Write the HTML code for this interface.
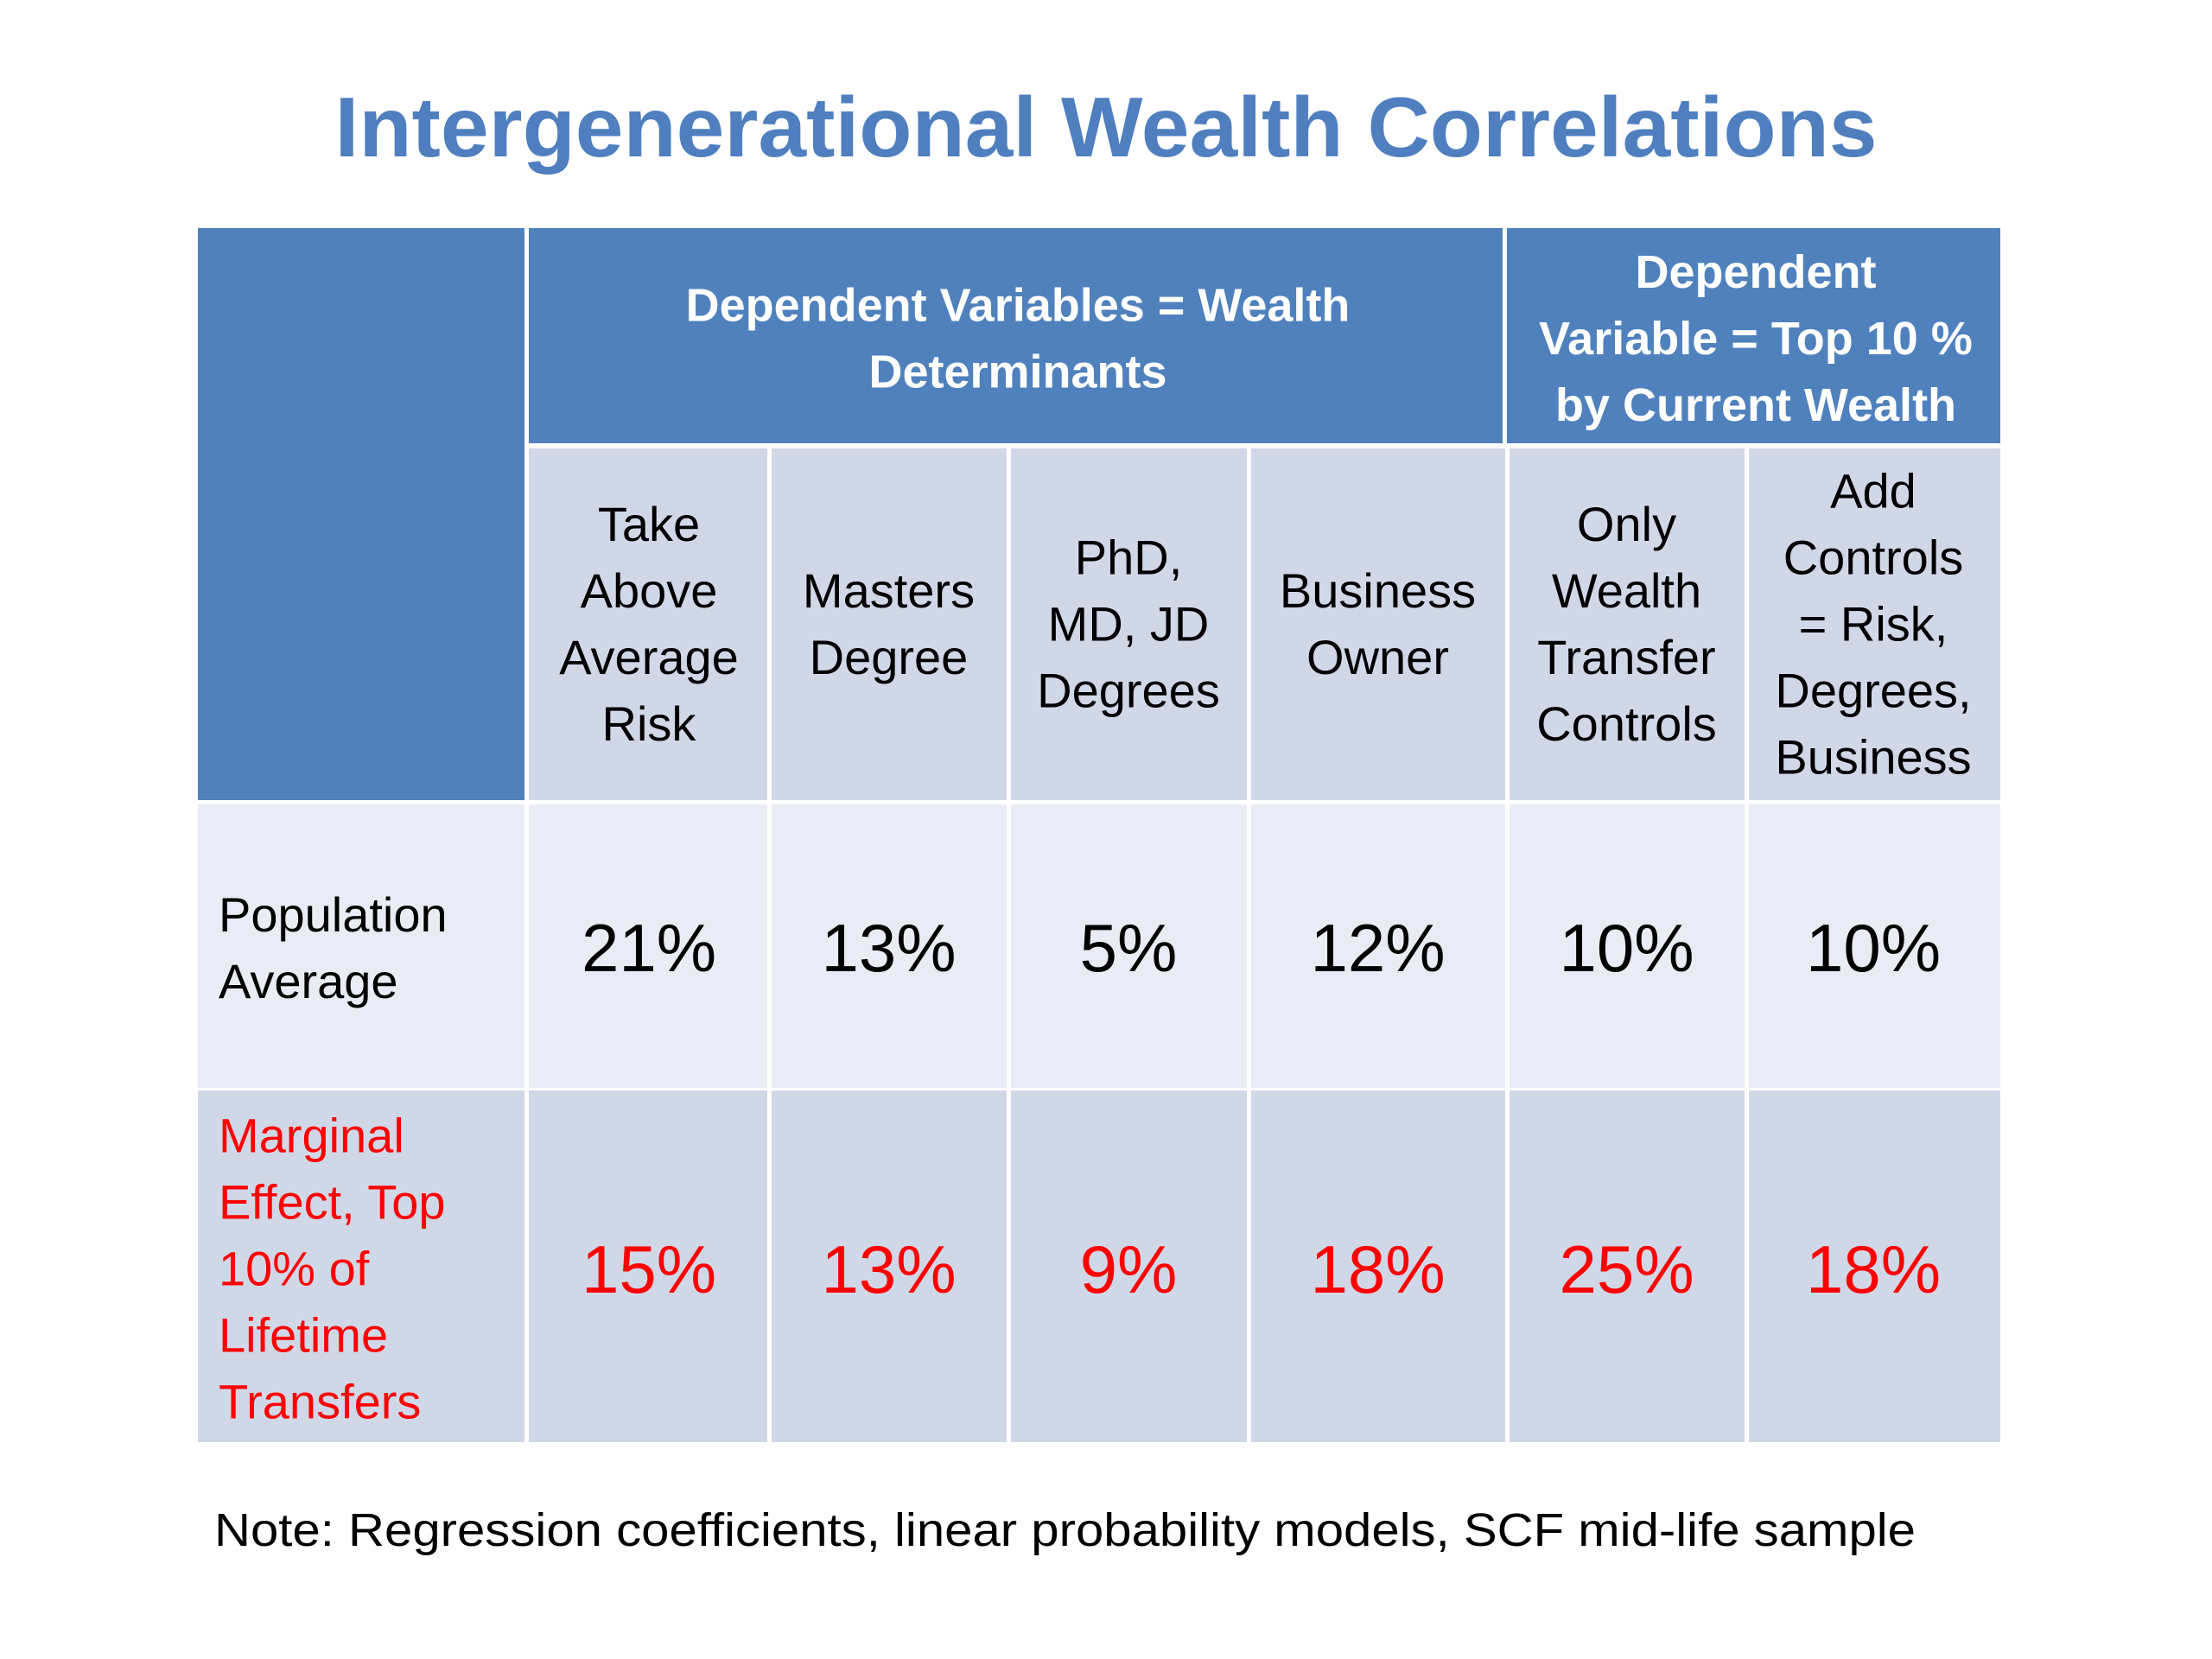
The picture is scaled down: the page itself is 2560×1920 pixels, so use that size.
<!DOCTYPE html>
<html><head><meta charset="utf-8"><style>
html,body{margin:0;padding:0;background:#fff;}
svg{display:block;font-family:"Liberation Sans",sans-serif;}
</style></head><body>
<svg id="c" width="2560" height="1920" viewBox="0 0 2560 1920">
<text x="1280" y="147" text-anchor="middle" dominant-baseline="central" font-size="98" font-weight="bold" fill="#4f7fbf" textLength="1785" lengthAdjust="spacingAndGlyphs">Intergenerational Wealth Correlations</text>
<g id="t"></g>
<text x="248" y="1771" dominant-baseline="central" font-size="54" fill="#000" textLength="1969" lengthAdjust="spacingAndGlyphs">Note: Regression coefficients, linear probability models, SCF mid-life sample</text>
</svg>
<script>
const columns = [["Take","Above","Average","Risk"],["Masters","Degree"],["PhD,","MD, JD","Degrees"],["Business","Owner"],["Only","Wealth","Transfer","Controls"],["Add","Controls","= Risk,","Degrees,","Business"]];
const popAverage = ["21%","13%","5%","12%","10%","10%"];
const marginalEffect = ["15%","13%","9%","18%","25%","18%"];
const rowLabels = [["Population","Average"],["Marginal","Effect, Top","10% of","Lifetime","Transfers"]];

const NS="http://www.w3.org/2000/svg";
const g=document.getElementById('t');
const colX=[612,890,1167,1445,1744,2021,2315];
const lh=77;
function rect(x,y,w,h,fill,name){const r=document.createElementNS(NS,'rect');
r.setAttribute('x',x);r.setAttribute('y',y);r.setAttribute('width',w);r.setAttribute('height',h);r.setAttribute('fill',fill);


g.appendChild(r);}
function lines(arr,x,cy,size,fill,anchor,weight,name){arr.forEach((s,i)=>{const t=document.createElementNS(NS,'text');
t.setAttribute('x',x);t.setAttribute('y',cy+(i-(arr.length-1)/2)*lh);t.setAttribute('text-anchor',anchor);
t.setAttribute('dominant-baseline','central');t.setAttribute('font-size',size);t.setAttribute('fill',fill);
if(weight)t.setAttribute('font-weight',weight);t.textContent=s;


g.appendChild(t);});}
rect(229,264,2086,1405,'#ffffff','table-bg');
rect(229,264,378,662,'#4f81bd','corner-cell');
rect(612,264,1127,249,'#4f81bd','group-header-wealth-determinants');
rect(1744,264,571,249,'#4f81bd','group-header-top10');
lines(["Dependent Variables = Wealth","Determinants"],1178,392,54,'#fff','middle','bold','group-header-text');
lines(["Dependent","Variable = Top 10 %","by Current Wealth"],2032,392,54,'#fff','middle','bold','group-header-text');
for(let i=0;i<6;i++){
  const x0=colX[i]+(i===0?0:3), x1=colX[i+1]-(i===5?0:2);
  const w=x1-x0, cx=(colX[i]+colX[i+1])/2;
  rect(x0,519,w,407,'#d0d8e8','column-header-cell');
  lines(columns[i],cx,722,56,'#000','middle',null,'column-header-label');
  rect(x0,931,w,328,'#e9ecf4','population-average-cell');
  lines([popAverage[i]],cx,1097,78,'#000','middle',null,'population-average-value');
  rect(x0,1262,w,407,'#d0d8e8','marginal-effect-cell');
  lines([marginalEffect[i]],cx,1469,78,'#ff0000','middle',null,'marginal-effect-value');
}
rect(229,931,378,328,'#e9ecf4','row-label-cell');
rect(229,1262,378,407,'#d0d8e8','row-label-cell');
lines(rowLabels[0],253,1097,56,'#000','start',null,'row-label-population-average');
lines(rowLabels[1],253,1468,56,'#ff0000','start',null,'row-label-marginal-effect');
</script>
</body></html>
